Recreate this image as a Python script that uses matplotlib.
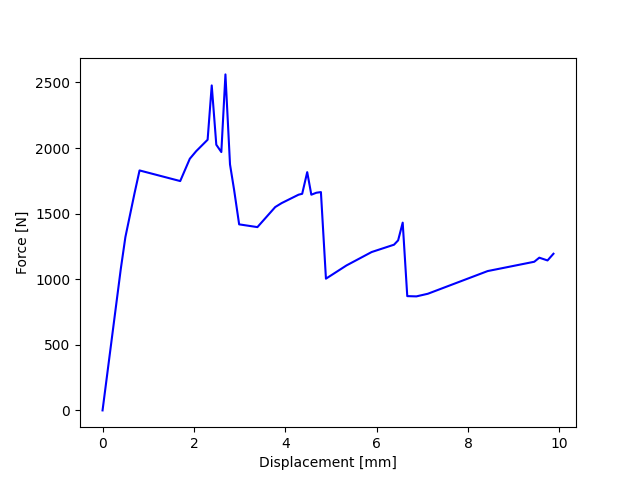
import numpy as np
import matplotlib
matplotlib.use("Agg")
import matplotlib.pyplot as plt

# Displacement / force
displacement = [0.0, 0.4, 0.5, 0.7, 0.81, 1.70, 1.91, 2.05, 2.30, 2.39, 2.49, 2.60,
                2.69, 2.79, 2.88, 2.99, 3.39, 3.78, 3.92, 4.29, 4.37, 4.48, 4.57,
                4.68, 4.78, 4.89, 5.34, 5.89, 6.38, 6.47, 6.57, 6.67, 6.87, 7.12,
                8.43, 9.45, 9.56, 9.74, 9.87]
force = [0, 1080, 1321, 1655, 1829, 1748, 1918, 1976, 2063, 2477, 2025, 1969,
         2561, 1875, 1680, 1418, 1397, 1550, 1580, 1644, 1651, 1816, 1644,
         1659, 1664, 1004, 1105, 1207, 1263, 1296, 1431, 871, 869, 889,
         1062, 1133, 1164, 1143, 1194]

fig, ax = plt.subplots(figsize=(6.4, 4.8), dpi=100)
ax.plot(displacement, force, color='b')
ax.set_xlabel("Displacement [mm]")
ax.set_ylabel("Force [N]")
fig.savefig("out.png")
